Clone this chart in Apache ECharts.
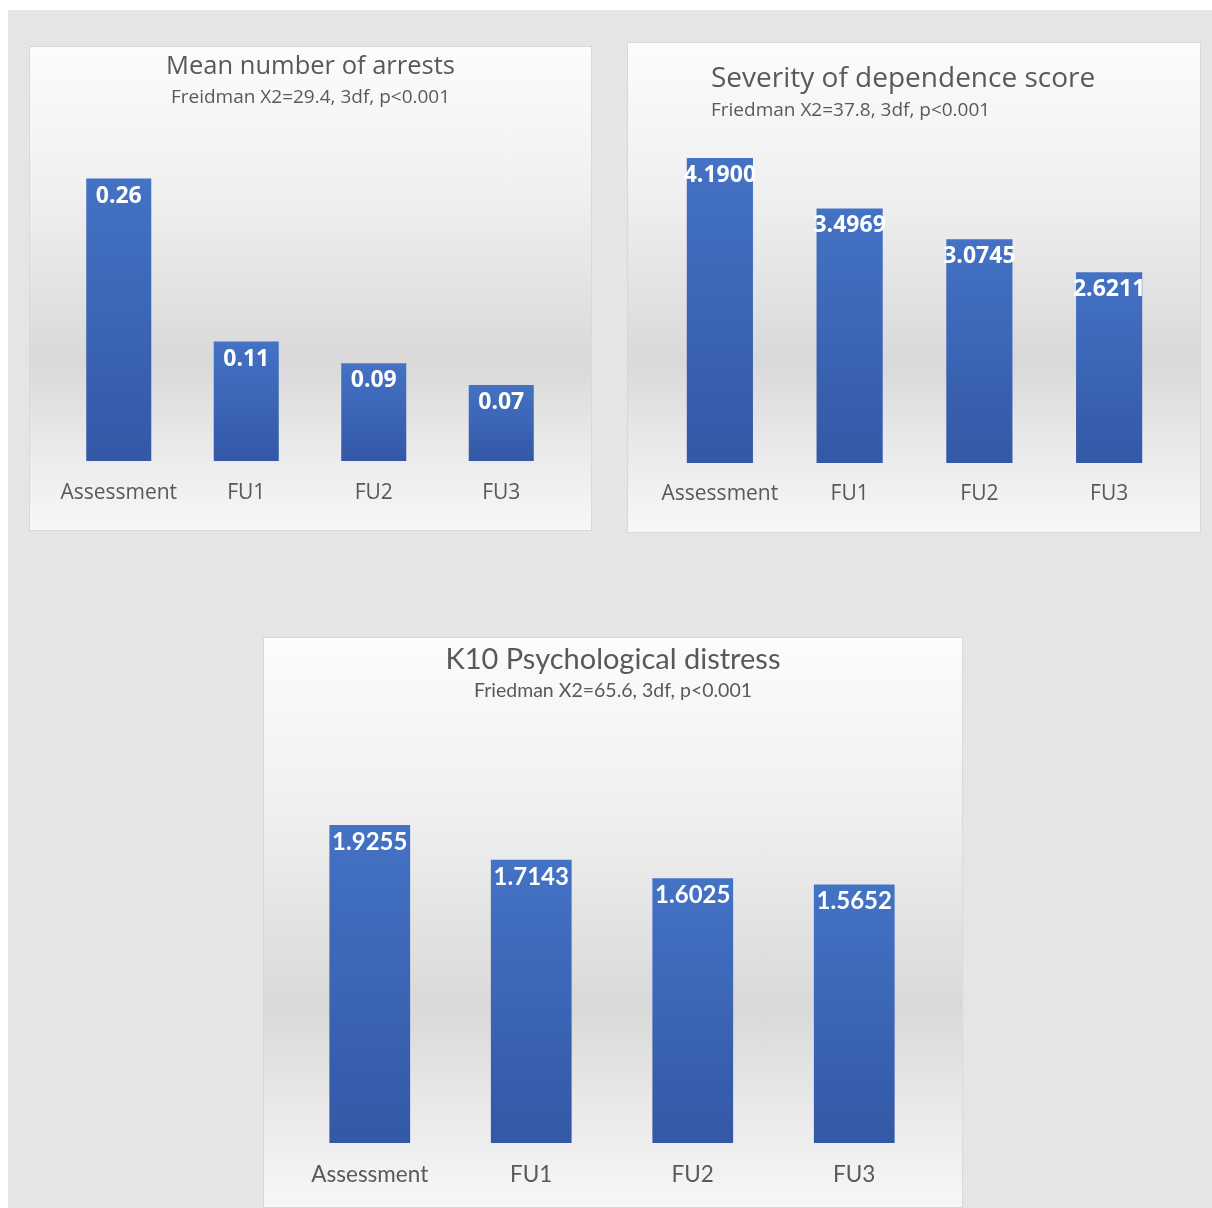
<!DOCTYPE html>
<html>
<head>
<meta charset="utf-8">
<title>Outcome charts</title>
<script src="https://cdn.jsdelivr.net/npm/echarts@6/dist/echarts.min.js"></script>
<style>
  html, body { margin: 0; padding: 0; background: #ffffff; }
  body { width: 1212px; height: 1208px; position: relative; overflow: hidden; }
  #page { position: absolute; left: 8px; top: 10px; width: 1204px; height: 1198px; background: #e5e5e5; }
  .panel {
    position: absolute;
    box-sizing: border-box;
    border: 1px solid #d9d9d9;
    background: linear-gradient(to bottom, #fcfcfc 0%, #f0f0f0 30%, #d9d9d9 65%, #e9e9e9 82%, #f7f7f7 100%);
  }
  #arrests { left: 29px; top: 46px; width: 563px; height: 485px; }
  #severity { left: 627px; top: 42px; width: 574px; height: 491px; }
  #k10 { left: 263px; top: 637px; width: 700px; height: 571px; }
</style>
</head>
<body>
<div id="page"></div>
<div class="panel" id="arrests"></div>
<div class="panel" id="severity"></div>
<div class="panel" id="k10"></div>
<script>
// time points shared by all three charts
const categories = ['Assessment', 'FU1', 'FU2', 'FU3']

// mean values per time point
const arrestValues = [0.26, 0.11, 0.09, 0.07]
const severityValues = [4.19, 3.4969, 3.0745, 2.6211]
const k10Values = [1.9255, 1.7143, 1.6025, 1.5652]

const textGrey = '#595959'

// Excel-like blue bar fill
const barFill = new echarts.graphic.LinearGradient(0, 0, 0, 1, [
  { offset: 0, color: '#4472c4' },
  { offset: 1, color: '#3358a6' },
])

/**
 * Build options for one panel
 */
function barOptions(cfg) {
  return {
    backgroundColor: 'transparent',
    animation: false,
    title: [
      {
        text: cfg.title,
        left: cfg.titleLeft,
        top: cfg.titleTop,
        padding: 0,
        textStyle: { color: textGrey, fontFamily: cfg.font, fontSize: cfg.titleSize, fontWeight: 'normal' },
      },
      {
        text: cfg.subtitle,
        left: cfg.titleLeft,
        top: cfg.subTop,
        padding: 0,
        textStyle: { color: textGrey, fontFamily: cfg.font, fontSize: cfg.subSize, fontWeight: 'normal' },
      },
    ],
    grid: cfg.grid,
    xAxis: {
      type: 'category',
      data: categories,
      axisLine: { show: false },
      axisTick: { show: false },
      axisLabel: { interval: 0, color: textGrey, fontFamily: cfg.font, fontSize: cfg.axisSize, margin: cfg.axisMargin },
    },
    yAxis: {
      type: 'value',
      min: 0,
      max: cfg.max,
      show: false,
      splitLine: { show: false },
    },
    series: [
      {
        type: 'bar',
        data: cfg.values,
        barWidth: cfg.barWidth,
        itemStyle: { color: barFill },
        label: {
          show: true,
          position: 'insideTop',
          distance: cfg.labelDistance,
          color: '#ffffff',
          fontFamily: cfg.font,
          fontWeight: 'bold',
          fontSize: cfg.labelSize,
          formatter: (p) => p.value.toFixed(cfg.decimals),
        },
      },
    ],
  }
}

const panels = [
  {
    id: 'arrests',
    title: 'Mean number of arrests',
    subtitle: 'Freidman X2=29.4, 3df, p<0.001',
    titleLeft: 'center',
    titleTop: 7,
    subTop: 41,
    titleSize: 25.5,
    subSize: 19,
    font: 'Open Sans',
    grid: { left: 25, right: 26, top: 88, bottom: 69 },
    max: 0.3,
    values: arrestValues,
    decimals: 2,
    barWidth: '51%',
    labelSize: 23,
    labelDistance: 6,
    axisSize: 21,
    axisMargin: 22,
  },
  {
    id: 'severity',
    title: 'Severity of dependence score',
    subtitle: 'Friedman X2=37.8, 3df, p<0.001',
    titleLeft: 83,
    titleTop: 22,
    subTop: 58,
    titleSize: 28,
    subSize: 19,
    font: 'Open Sans',
    grid: { left: 27, right: 26, top: 56, bottom: 69 },
    max: 5,
    values: severityValues,
    decimals: 4,
    barWidth: '51%',
    labelSize: 23,
    labelDistance: 6,
    axisSize: 21,
    axisMargin: 21,
  },
  {
    id: 'k10',
    title: 'K10 Psychological distress',
    subtitle: 'Friedman X2=65.6, 3df, p<0.001',
    titleLeft: 'center',
    titleTop: 7,
    subTop: 43,
    titleSize: 29,
    subSize: 19.5,
    font: 'Lato',
    grid: { left: 25, right: 27, top: 92, bottom: 64 },
    max: 2.5,
    values: k10Values,
    decimals: 4,
    barWidth: '50%',
    labelSize: 24,
    labelDistance: 5,
    axisSize: 22.5,
    axisMargin: 20,
  },
]

panels.forEach((cfg) => {
  const chart = echarts.init(document.getElementById(cfg.id), null, { renderer: 'canvas' })
  chart.setOption(barOptions(cfg))
})
</script>
</body>
</html>
